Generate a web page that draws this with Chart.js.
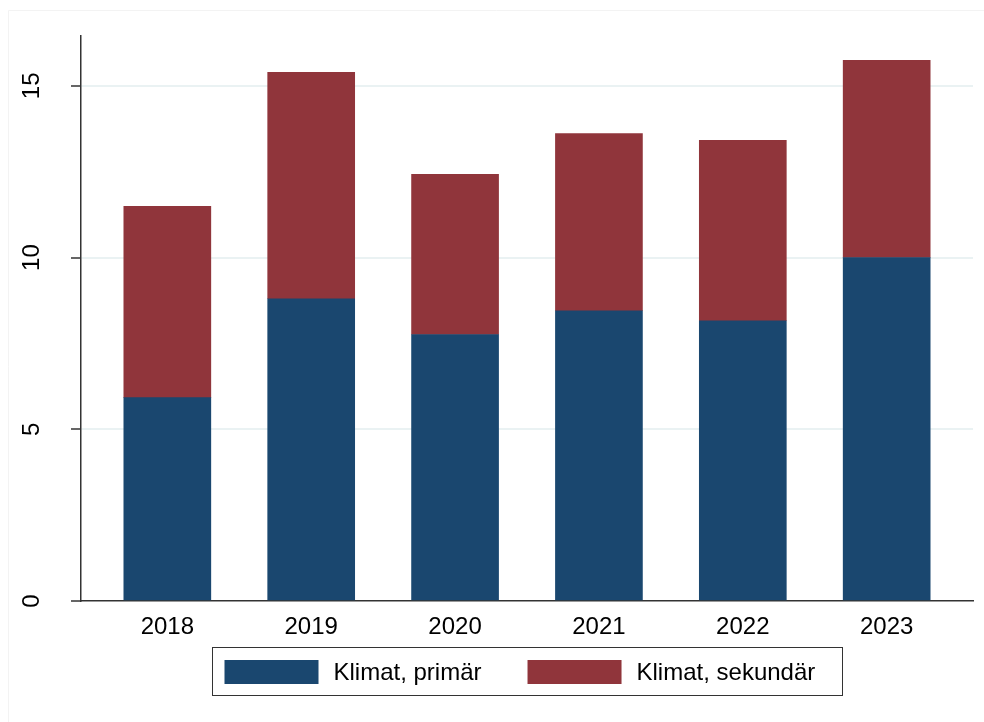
<!DOCTYPE html>
<html>
<head>
<meta charset="utf-8">
<script src="https://cdn.jsdelivr.net/npm/chart.js@4/dist/chart.umd.min.js"></script>
<style>
  body { margin: 0; background: #fff; }
  #wrap { width: 984px; height: 722px; }
</style>
</head>
<body>
<div id="wrap"><canvas id="myChart" width="984" height="722"></canvas></div>
<script>
const years = ["2018", "2019", "2020", "2021", "2022", "2023"];
const primar = [5.92, 8.8, 7.76, 8.45, 8.16, 10.0];
const sekundar = [5.57, 6.59, 4.66, 5.16, 5.25, 5.74];
const yTicks = [0, 5, 10, 15];

const FONT = "'Liberation Sans', Arial, sans-serif";

// legend drawn in Stata style (box with border round it)
const stataLegend = {
  id: "stataLegend",
  afterDraw(chart) {
    const ctx = chart.ctx;
    const area = chart.chartArea;
    const cx = (area.left + area.right) / 2;
    ctx.save();
    ctx.font = "24px " + FONT;
    const boxLeft = Math.round(cx - 315) + 0.5;
    ctx.strokeStyle = "#333";
    ctx.lineWidth = 1;
    ctx.strokeRect(boxLeft, 647.5, 630, 48);
    let x = boxLeft + 12;
    chart.data.datasets.forEach((ds) => {
      ctx.fillStyle = ds.backgroundColor;
      ctx.fillRect(x, 660, 94, 24);
      x += 94 + 15;
      ctx.fillStyle = "#000";
      ctx.textBaseline = "middle";
      ctx.textAlign = "left";
      ctx.fillText(ds.label, x, 673);
      x += ctx.measureText(ds.label).width + 46;
    });

    // rotated y tick labels
    const y = chart.scales.y;
    ctx.textAlign = "center";
    ctx.textBaseline = "middle";
    ctx.fillStyle = "#000";
    y.ticks.forEach((t) => {
      const py = y.getPixelForValue(t.value);
      ctx.save();
      ctx.translate(32, py);
      ctx.rotate(-Math.PI / 2);
      ctx.fillText(String(t.value), 0, 0);
      ctx.restore();
    });

    // faint outer frame
    ctx.strokeStyle = "#f3f3f3";
    ctx.beginPath();
    ctx.moveTo(8.5, 722);
    ctx.lineTo(8.5, 10.5);
    ctx.lineTo(984, 10.5);
    ctx.stroke();
    ctx.restore();
  },
};

let ctx = document.getElementById("myChart");

let chart = new Chart(ctx, {
  type: "bar",
  data: {
    datasets: [
      {
        label: "Klimat, primär",
        data: primar.map((v, i) => ({ x: i, y: v })),
        backgroundColor: "#1a476f",
        barThickness: 87,
      },
      {
        label: "Klimat, sekundär",
        data: sekundar.map((v, i) => ({ x: i, y: v })),
        backgroundColor: "#90353b",
        barThickness: 87,
      },
    ],
  },
  options: {
    responsive: false,
    animation: false,
    layout: { padding: { left: 0, right: 11, top: 36, bottom: 75 } },
    plugins: {
      legend: { display: false },
      tooltip: { enabled: false },
    },
    scales: {
      x: {
        type: "linear",
        stacked: true,
        offset: false,
        min: -0.6,
        max: 5.6,
        afterBuildTicks: (s) => {
          s.ticks = years.map((_, i) => ({ value: i }));
        },
        afterFit: (s) => {
          s.height = 46;
        },
        grid: { display: false, offset: false },
        border: { display: true, color: "#333", width: 1.5 },
        ticks: {
          padding: 4,
          color: "#000",
          font: { family: FONT, size: 24 },
          callback: (v) => years[v],
          maxRotation: 0,
        },
      },
      y: {
        stacked: true,
        min: 0,
        max: 16.45,
        afterBuildTicks: (s) => {
          s.ticks = yTicks.map((v) => ({ value: v }));
        },
        afterFit: (s) => {
          s.width = 81;
        },
        grid: {
          color: (c) => (c.tick && c.tick.value === 0 ? "rgba(0,0,0,0)" : "#eaf2f3"),
          lineWidth: 2,
          tickColor: "#333",
          tickLength: 10,
          tickWidth: 1.5,
        },
        border: { display: true, color: "#333", width: 1.5 },
        ticks: {
          color: "rgba(0,0,0,0)",
          font: { family: FONT, size: 24 },
        },
      },
    },
  },
  plugins: [stataLegend],
});
</script>
</body>
</html>
